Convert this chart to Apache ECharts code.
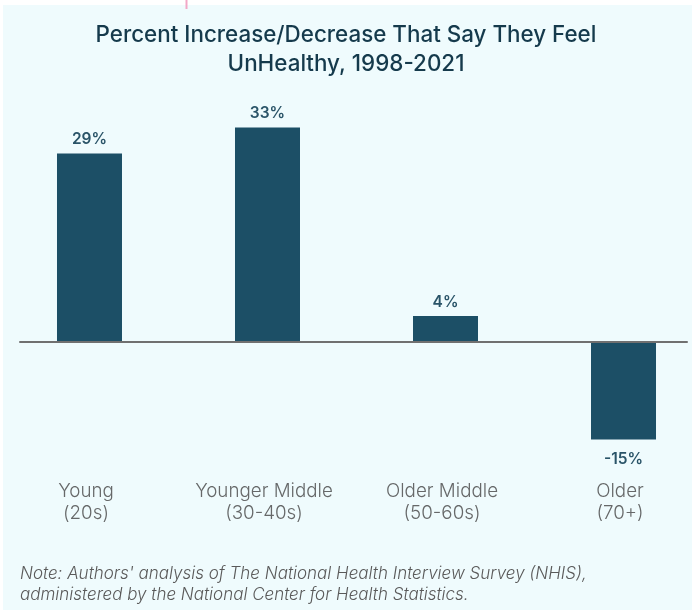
<!DOCTYPE html>
<html><head><meta charset="utf-8">
<script src="https://cdn.jsdelivr.net/npm/echarts@6/dist/echarts.min.js"></script>
<style>html,body{margin:0;padding:0;background:#fff;}#c{width:692px;height:610px;}</style>
</head><body><div id="c"></div>
<script>
const categories = ['Young\n(20s)', 'Younger Middle\n(30-40s)', 'Older Middle\n(50-60s)', 'Older\n(70+)'];
const values = [29, 33, 4, -15];
const positions = [0, 1, 2, 3];
const yMin = -20, yMax = 40;
const titleText = 'Percent Increase/Decrease That Say They Feel\nUnHealthy, 1998-2021';
const noteText = "Note: Authors' analysis of The National Health Interview Survey (NHIS),\nadministered by the National Center for Health Statistics.";

const chart = echarts.init(document.getElementById('c'), null, {renderer: 'canvas'});
chart.setOption({
  backgroundColor: '#ffffff',
  animation: false,
  graphic: [
    {type: 'rect', z: -10, shape: {x: 3, y: 5, width: 689, height: 605}, style: {fill: '#effbfd'}},
    {type: 'line', z: -9, shape: {x1: 186.5, y1: 0, x2: 186.5, y2: 9}, style: {stroke: '#f2a7c6', lineWidth: 2}}
  ],
  title: [
    {text: titleText, left: 'center', top: 16,
     textStyle: {fontFamily: 'Inter', fontWeight: 500, fontSize: 22.4, color: '#153a4c', lineHeight: 29}},
    {text: noteText, left: 15, top: 558,
     textStyle: {fontFamily: 'Inter', fontStyle: 'italic', fontWeight: 300, fontSize: 17, color: '#5a5a5a', lineHeight: 21}}
  ],
  grid: {left: 20, right: 5, top: 82, height: 390},
  xAxis: {
    type: 'value', min: -0.3904, max: 3.3567, splitLine: {show: false}, z: 10,
    axisLine: {show: true, onZero: true, lineStyle: {color: '#707070', width: 2}},
    axisTick: {show: false},
    axisLabel: {show: false}
  },
  yAxis: {type: 'value', min: yMin, max: yMax, show: false, splitLine: {show: false}},
  series: [{
    type: 'bar', barWidth: 65, z: 1,
    data: values.map((v, i) => ({
      value: [positions[i], v],
      label: {show: true, position: v >= 0 ? 'top' : 'bottom', distance: v >= 0 ? 6 : 12,
        formatter: p => p.value[1] + '%',
        fontFamily: 'Inter', fontWeight: 600, fontSize: 15.5, color: '#2a5468'}
    })),
    itemStyle: {color: '#1c4f66'}
  }, {
    type: 'scatter', symbolSize: 0, silent: true,
    data: positions.map((p, i) => ({
      value: [p, yMin],
      label: {show: true, position: 'bottom', distance: 8, padding: [0, 7, 0, 0],
        formatter: () => categories[i], align: 'center',
        fontFamily: 'Inter', fontWeight: 300, fontSize: 18.8, color: '#444', lineHeight: 22}
    }))
  }]
});
</script></body></html>
